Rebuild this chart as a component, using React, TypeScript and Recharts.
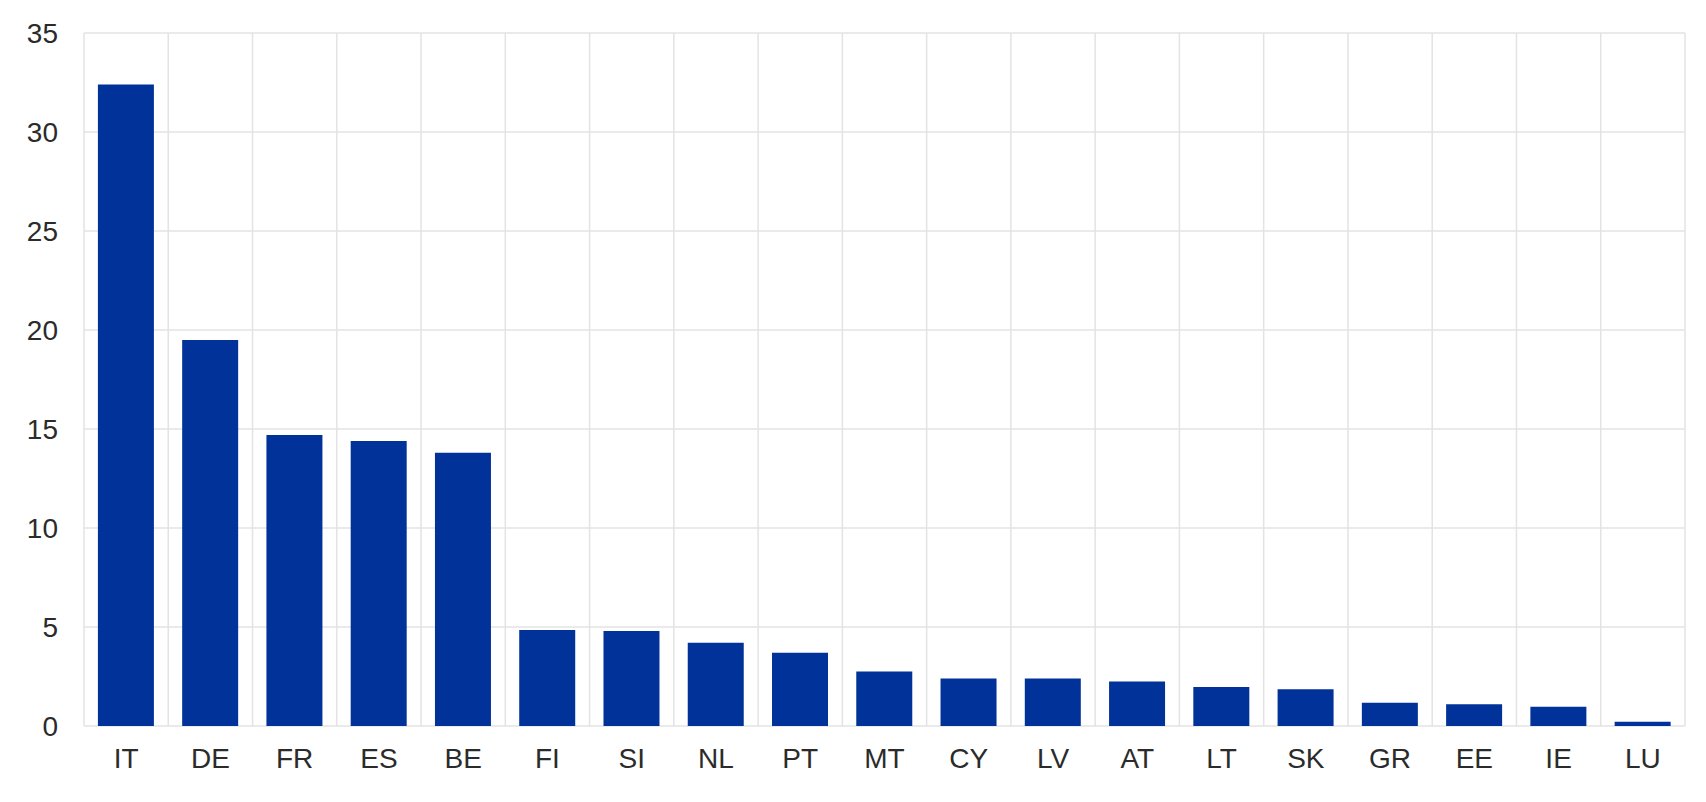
import { BarChart, Bar, XAxis, YAxis, CartesianGrid } from 'recharts';

// Country codes along the x axis
const countries = ['IT', 'DE', 'FR', 'ES', 'BE', 'FI', 'SI', 'NL', 'PT', 'MT', 'CY', 'LV', 'AT', 'LT', 'SK', 'GR', 'EE', 'IE', 'LU'];

// Values
const values = [32.4, 19.5, 14.7, 14.4, 13.8, 4.85, 4.8, 4.2, 3.7, 2.75, 2.4, 2.4, 2.25, 1.97, 1.85, 1.18, 1.1, 0.97, 0.22];

const yTicks = [0, 5, 10, 15, 20, 25, 30, 35];

const BAR_COLOR = '#003299';
const GRID_COLOR = '#e3e3e3';
const TEXT_COLOR = '#2b2b2b';

const data = countries.map((c, i) => ({ country: c, value: values[i] }));

// vertical grid lines sit between the categories, not through them
const boundaryLines = ({ offset }: any) => {
  const step = offset.width / countries.length;
  return Array.from({ length: countries.length + 1 }, (_, i) => offset.left + i * step);
};

export default function App() {
  return (
    <div style={{ position: 'absolute', left: 0, top: 0, background: '#fff' }}>
      <BarChart
        width={1706}
        height={802}
        data={data}
        margin={{ top: 33, right: 21, bottom: 0, left: 0 }}
        barCategoryGap="16.5%"
      >
        <CartesianGrid stroke={GRID_COLOR} strokeWidth={1.5} verticalCoordinatesGenerator={boundaryLines} />
        <XAxis
          dataKey="country"
          axisLine={false}
          tickLine={false}
          tickSize={0}
          tickMargin={22}
          height={76}
          interval={0}
          tick={{ fill: TEXT_COLOR, fontSize: 28, fontFamily: 'Liberation Sans, Arial, sans-serif' }}
        />
        <YAxis
          domain={[0, 35]}
          ticks={yTicks}
          axisLine={false}
          tickLine={false}
          tickSize={0}
          tickMargin={26}
          width={84}
          tick={{ fill: TEXT_COLOR, fontSize: 28, fontFamily: 'Liberation Sans, Arial, sans-serif' }}
        />
        <Bar dataKey="value" fill={BAR_COLOR} isAnimationActive={false} />
      </BarChart>
    </div>
  );
}
